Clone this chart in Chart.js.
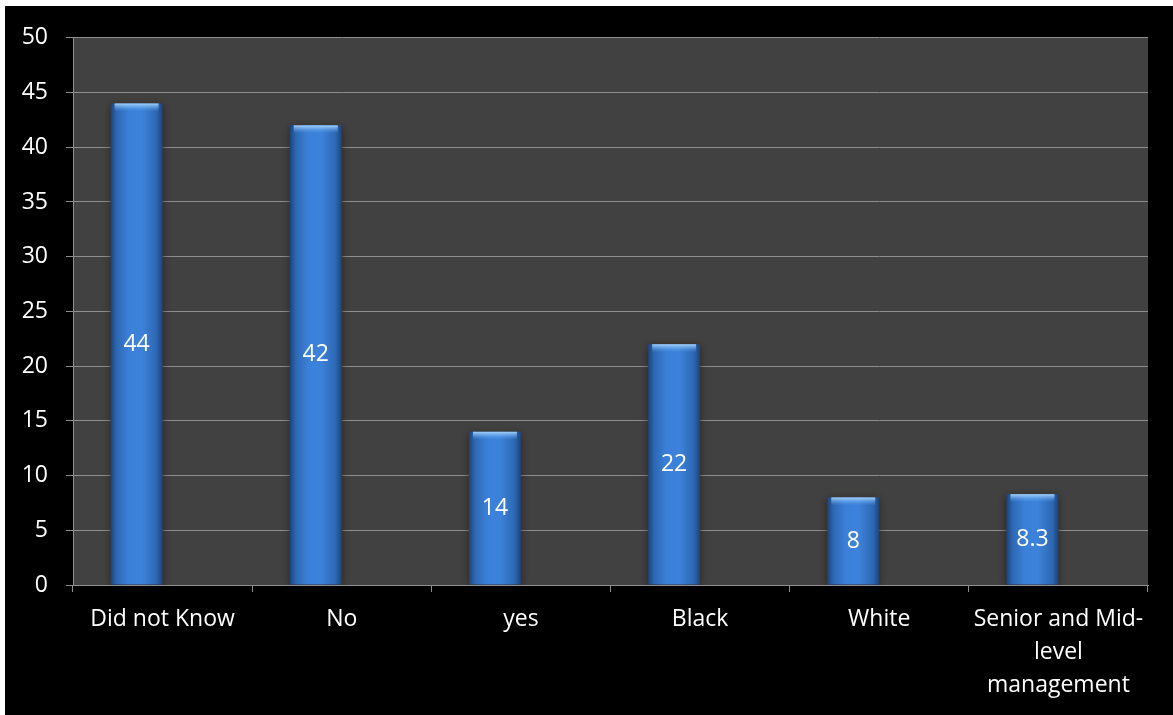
<!DOCTYPE html>
<html>
<head>
<meta charset="utf-8">
<script src="https://cdn.jsdelivr.net/npm/chart.js@4.4.1/dist/chart.umd.min.js"></script>
<style>
  html,body{margin:0;padding:0;background:#000000;width:1173px;height:715px;overflow:hidden;}
  #wrap{position:absolute;left:5px;top:6px;width:1168px;height:709px;}
  #topEdge{position:absolute;left:0;top:0;width:1173px;height:6px;background:#ffffff;}
  #leftEdge{position:absolute;left:0;top:0;width:5px;height:715px;background:#ffffff;}
</style>
</head>
<body>
<div id="topEdge"></div><div id="leftEdge"></div>
<div id="wrap"><canvas id="c" width="1168" height="709"></canvas></div>
<script>
const categories = ["Did not Know", "No", "yes", "Black", "White", ["Senior and Mid-", "level", "management"]];
const values = [44, 42, 14, 22, 8, 8.3];
const emptySeries = [null, null, null, null, null, null];
const yTicks = [0, 5, 10, 15, 20, 25, 30, 35, 40, 45, 50];

const FONT = "'Open Sans', 'DejaVu Sans', sans-serif";
const GRID = '#8e8e8e';

const bgPlugin = {
  id: 'bg',
  beforeDraw(chart) {
    const {ctx, chartArea: a} = chart;
    ctx.save();
    ctx.fillStyle = '#000000';
    ctx.fillRect(0, 0, chart.width, chart.height);
    ctx.fillStyle = '#414141';
    ctx.fillRect(a.left, a.top, a.right - a.left, a.bottom - a.top);
    ctx.restore();
  }
};

const barStyle = {
  id: 'barStyle',
  beforeDatasetsDraw(chart) {
    const ctx = chart.ctx;
    const meta = chart.getDatasetMeta(0);
    meta.data.forEach(el => {
      const l = el.x - el.width / 2, r = el.x + el.width / 2;
      const g = ctx.createLinearGradient(l, 0, r, 0);
      g.addColorStop(0, '#1d4378');
      g.addColorStop(0.12, '#2d68b4');
      g.addColorStop(0.35, '#3b80d8');
      g.addColorStop(0.6, '#3d82da');
      g.addColorStop(0.88, '#2d68b4');
      g.addColorStop(1, '#1d4378');
      el.options = Object.assign({}, el.options, {backgroundColor: g});
    });
    ctx.save();
    ctx.shadowColor = 'rgba(40,20,10,0.7)';
    ctx.shadowBlur = 8;
    ctx.shadowOffsetY = 2;
  },
  afterDatasetsDraw(chart) {
    const ctx = chart.ctx;
    ctx.restore();
    const meta = chart.getDatasetMeta(0);
    meta.data.forEach((el, i) => {
      const l = el.x - el.width / 2;
      const g = ctx.createLinearGradient(0, el.y, 0, el.y + 8);
      g.addColorStop(0, 'rgba(170,215,255,0.95)');
      g.addColorStop(1, 'rgba(90,160,235,0)');
      ctx.save();
      ctx.fillStyle = g;
      ctx.fillRect(l + 4, el.y, el.width - 8, 8);
      ctx.restore();
      ctx.save();
      ctx.fillStyle = '#ffffff';
      ctx.font = '23px ' + FONT;
      ctx.textAlign = 'center';
      ctx.textBaseline = 'middle';
      ctx.fillText(String(values[i]), el.x, (el.y + el.base) / 2);
      ctx.restore();
    });
  }
};

new Chart(document.getElementById('c'), {
  type: 'bar',
  data: {
    labels: categories,
    datasets: [
      {data: values, backgroundColor: '#3b7fd6', borderWidth: 0, barPercentage: 1, categoryPercentage: 0.58},
      {data: emptySeries, backgroundColor: '#c0504d', borderWidth: 0, barPercentage: 1, categoryPercentage: 0.58}
    ]
  },
  options: {
    responsive: false,
    animation: false,
    devicePixelRatio: 1,
    layout: {padding: {top: 29, right: 25, left: 0, bottom: 0}},
    plugins: {legend: {display: false}, tooltip: {enabled: false}},
    scales: {
      y: {
        min: 0, max: 50,
        afterFit(s) { s.width = 68; },
        afterBuildTicks(s) { s.ticks = yTicks.map(v => ({value: v})); },
        grid: {color: GRID, lineWidth: 1, tickLength: 7, drawTicks: true},
        border: {color: GRID, width: 1},
        ticks: {color: '#ffffff', padding: 18, font: {family: FONT, size: 23}}
      },
      x: {
        afterFit(s) { s.height = 130; },
        grid: {offset: true, drawOnChartArea: false, color: GRID, tickLength: 7},
        border: {color: GRID, width: 1},
        ticks: {color: '#ffffff', padding: 11, maxRotation: 0, autoSkip: false, font: {family: FONT, size: 23, lineHeight: 1.43}}
      }
    }
  },
  plugins: [bgPlugin, barStyle]
});
</script>
</body>
</html>
